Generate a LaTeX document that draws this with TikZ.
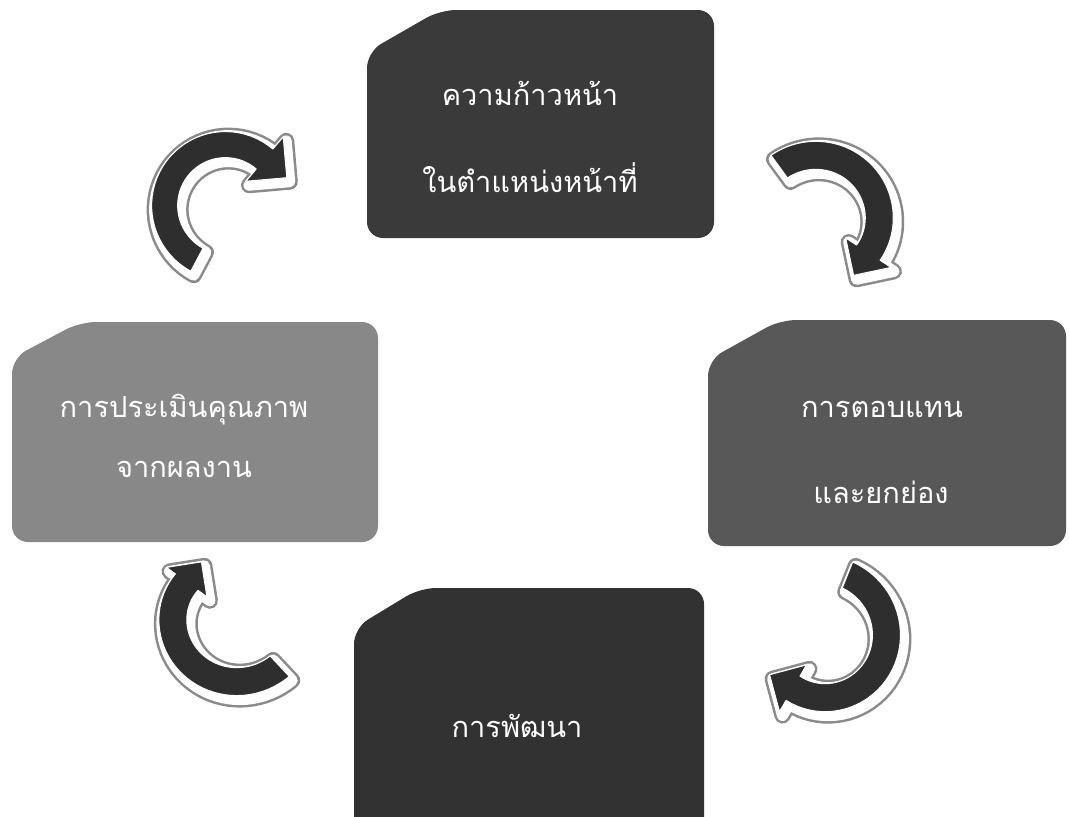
\documentclass[tikz,border=0pt]{standalone}
\usepackage{fontspec}
\newfontfamily\thaifont[Script=Thai]{Loma}
\definecolor{arrowdark}{HTML}{2E2E2E}
\definecolor{shadowgray}{HTML}{8A8A8A}
\definecolor{boxtop}{HTML}{3A3A3A}
\definecolor{boxleft}{HTML}{888888}
\definecolor{boxright}{HTML}{585858}
\definecolor{boxbottom}{HTML}{323232}
\tikzset{
  label/.style={text=white, anchor=base, inner sep=0pt,
    font=\thaifont\fontsize{29}{29}\selectfont},
}
\newcommand{\arrowpath}{plot[variable=\t,domain=0:1,samples=40]
  ({\acx+(\aRa+(\aRb-\aRa)*\t+\ahw)*cos(\aA+(\aH-\aA)*\t)},{\acy+(\aRa+(\aRb-\aRa)*\t+\ahw)*sin(\aA+(\aH-\aA)*\t)})
  -- (\aox,\aoy) -- (\atx,\aty) -- (\aix,\aiy)
  -- plot[variable=\t,domain=0:1,samples=40]
  ({\acx+(\aRb+(\aRa-\aRb)*\t-\ahw)*cos(\aH+(\aA-\aH)*\t)},{\acy+(\aRb+(\aRa-\aRb)*\t-\ahw)*sin(\aH+(\aA-\aH)*\t)})
  -- cycle}
% cx cy a1 ah R1 R2 halfwidth headhalfwidth headlength
\newcommand{\cycarrow}[9]{%
  \def\acx{#1}\def\acy{#2}\def\aA{#3}\def\aH{#4}%
  \def\aRa{#5}\def\aRb{#6}\def\ahw{#7}%
  \pgfmathsetmacro\apx{#1+#6*cos(#4)}%
  \pgfmathsetmacro\apy{#2+#6*sin(#4)}%
  \pgfmathsetmacro\asg{(#4>#3)?1:-1}%
  \pgfmathsetmacro\atx{\apx+#9*cos(#4+90*\asg)}%
  \pgfmathsetmacro\aty{\apy+#9*sin(#4+90*\asg)}%
  \pgfmathsetmacro\aox{\apx+#8*cos(#4)}%
  \pgfmathsetmacro\aoy{\apy+#8*sin(#4)}%
  \pgfmathsetmacro\aix{\apx-#8*cos(#4)}%
  \pgfmathsetmacro\aiy{\apy-#8*sin(#4)}%
  \begin{scope}[shift={(3,4)}]
    \path[draw=shadowgray, line width=16pt, line join=round] \arrowpath;
    \path[draw=white, fill=white, line width=11pt, line join=round] \arrowpath;
  \end{scope}
  \path[fill=arrowdark, draw=white, line width=1pt, line join=round] \arrowpath;
}
% x0 y0 x1 y1 bevelx bevely colour
\newcommand{\snipbox}[7]{%
  \path[fill=#7, rounded corners=16pt]
    (#1+#5,#2) -- (#3,#2) -- (#3,#4) -- (#1,#4) -- (#1,#2+#6) -- cycle;
}
\begin{document}
\begin{tikzpicture}[x=1pt,y=-1pt]
  \clip (0,0) rectangle (1069,817);
  \fill[white] (0,0) rectangle (1069,817);

  % boxes
  \snipbox{367}{10}{714}{238}{73}{42}{boxtop}
  \snipbox{12}{322}{378}{542}{68}{36}{boxleft}
  \snipbox{708}{320}{1066}{546}{72}{40}{boxright}
  \snipbox{354}{588}{704}{840}{66}{40}{boxbottom}

  % labels
  \node[label] (t1) at (530,105) {ความก้าวหน้า};
  \node[label] (t2) at (530,192) {ในตำแหน่งหน้าที่};
  \node[label] (l1) at (184,417) {การประเมินคุณภาพ};
  \node[label] (l2) at (184,477) {จากผลงาน};
  \node[label] (r1) at (882,417) {การตอบแทน};
  \node[label] (r2) at (881,503) {และยกย่อง};
  \node[label] (b1) at (517,737) {การพัฒนา};

  % arrows
  \cycarrow{226}{205}{118}{310}{62}{60}{13}{29}{29}
  \cycarrow{818}{220}{234}{393}{66}{60}{14}{27}{27}
  \cycarrow{822}{638}{-68}{120}{68}{58}{14}{27}{27}
  \cycarrow{232}{615}{47}{216}{70}{56}{14}{25}{25}
\end{tikzpicture}
\end{document}
